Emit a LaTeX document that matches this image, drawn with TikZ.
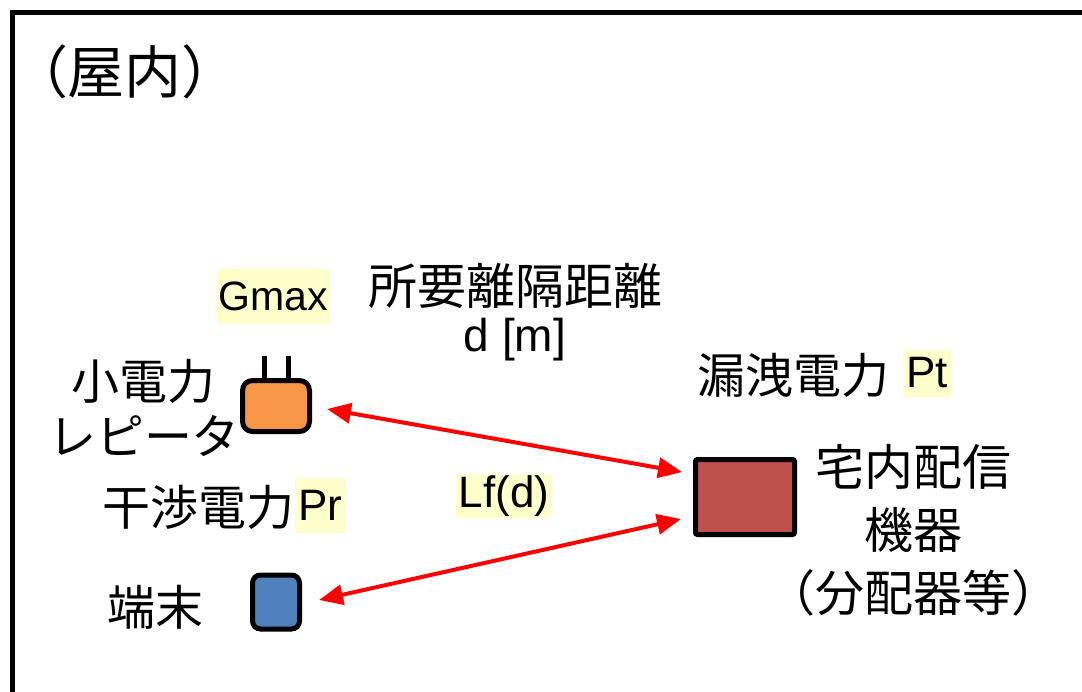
\documentclass[tikz,border=0pt]{standalone}
\usepackage{fontspec}
\setmainfont{Liberation Sans}
\newfontfamily\jp{Noto Sans CJK JP}
\usetikzlibrary{arrows.meta}
\definecolor{hl}{HTML}{FFFFCC}
\definecolor{orangebox}{HTML}{F79646}
\definecolor{redbox}{HTML}{C0504D}
\definecolor{bluebox}{HTML}{4F81BD}
\definecolor{arrred}{HTML}{FF0000}
\tikzset{
  jptext/.style={font=\jp\fontsize{48}{56}\selectfont, inner sep=0pt, align=center},
  latin/.style={font=\fontsize{44}{50}\selectfont, inner sep=0pt},
  hlbox/.style={latin, fill=hl, inner xsep=3pt},
  dev/.style={draw=black, line width=5pt},
  arr/.style={draw=arrred, line width=4pt, {Triangle[length=24pt,width=20pt]}-{Triangle[length=24pt,width=20pt]}},
}
\begin{document}
\begin{tikzpicture}[x=1pt,y=-1pt]
\useasboundingbox (0,0) rectangle (1082,691);
\clip (0,0) rectangle (1082,691);
% frame
\draw[line width=5pt] (12,720) -- (12,12) -- (1110,12);
% title
\node[jptext, font=\jp\fontsize{57}{60}\selectfont] (title) at (125,72) {（屋内）};
% devices
\node[dev, fill=orangebox, rounded corners=10pt, minimum width=67pt, minimum height=51pt] (rep) at (276,406) {};
\draw[line width=5pt] ([xshift=-12pt]rep.north) -- ++(0,-22) coordinate (p1);
\draw[line width=5pt] ([xshift=12pt]rep.north) -- ++(0,-22) coordinate (p2);
\node[dev, fill=bluebox, rounded corners=8pt, minimum width=47pt, minimum height=54pt] (term) at (276,602) {};
\node[dev, fill=redbox, rounded corners=2pt, minimum width=99pt, minimum height=75pt] (box) at (745,497) {};
% arrows
\draw[arr] ([xshift=15pt,yshift=-3pt]rep.east) -- ([xshift=-11pt,yshift=25pt]box.west);
\draw[arr] ([xshift=17pt,yshift=2pt]term.east) -- ([xshift=-12pt,yshift=-22pt]box.west);
% labels
\node[jptext, font=\jp\fontsize{48}{55}\selectfont] (replbl) at (144,408) {小電力\\レピータ};
\node[hlbox, font=\fontsize{41}{46}\selectfont, inner xsep=1pt, minimum width=110pt, minimum height=55pt] (gmax) at (273,296) {Gmax};
\node[jptext, font=\jp\fontsize{49}{55}\selectfont] (dist) at (515,286) {所要離隔距離};
\node[latin, font=\fontsize{46}{50}\selectfont] (dm) at (515,340) {d [m]};
\node[jptext] (leak) at (793,375) {漏洩電力};
\node[hlbox, minimum width=45pt, minimum height=47pt] (pt) at (927,373) {Pt};
\node[jptext, font=\jp\fontsize{49}{63}\selectfont] (boxlbl) at (913,530) {宅内配信\\機器\\（分配器等）};
\node[jptext] (intf) at (198,507) {干渉電力};
\node[hlbox, minimum width=46pt, minimum height=55pt] (pr) at (320,505) {Pr};
\node[hlbox, minimum width=92pt, minimum height=44pt] (lf) at (504,496) {Lf(d)};
\node[jptext] (termlbl) at (155,607) {端末};
\end{tikzpicture}
\end{document}
